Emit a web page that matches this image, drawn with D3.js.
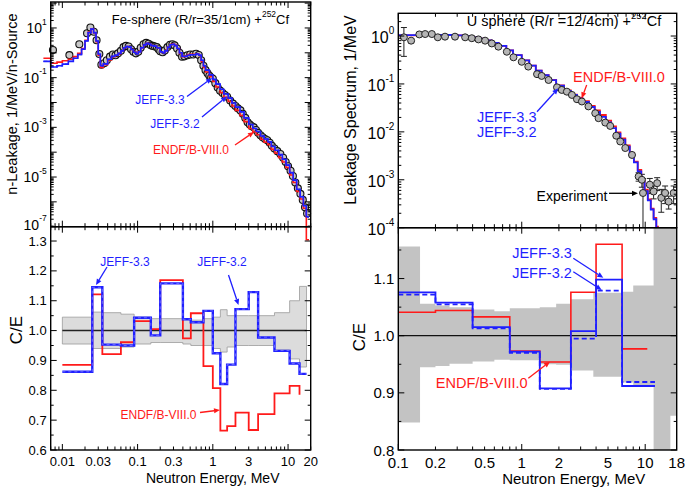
<!DOCTYPE html>
<html><head><meta charset="utf-8">
<script src="https://cdn.jsdelivr.net/npm/d3@7"></script>
<style>body{margin:0;background:#fff} svg{display:block} text{font-family:"Liberation Sans",Arial,Helvetica,sans-serif}</style>
</head><body><svg id="c" width="685" height="488"></svg>
<script>
// ---------------- DATA ----------------
// Fe sphere: experimental leakage spectrum (E MeV, 1/MeV/n-source)
const feExpE = [0.0075,0.0124,0.0168,0.0213,0.0236,0.0262,0.0285,0.031,0.033,0.036,0.039,0.043,0.047,0.051,0.055,0.06,0.065,0.07,0.076,0.082,0.088,0.095,0.102,0.11,0.12,0.13,0.14,0.15,0.16,0.17,0.18,0.19,0.2,0.215,0.23,0.25,0.27,0.29,0.31,0.335,0.36,0.39,0.42,0.46,0.5,0.55,0.6,0.65,0.7,0.75,0.8,0.85,0.9,0.95,1.0,1.08,1.16,1.25,1.35,1.45,1.55,1.7,1.85,2.0,2.15,2.33,2.5,2.7,2.9,3.1,3.3,3.5,3.75,4.0,4.3,4.6,4.95,5.3,5.7,6.1,6.6,7.2,7.9,8.6,9.3,10.0,10.8,11.6,12.5,13.5,14.6,15.7,16.8,17.9];
const feExpV = [1.3,0.81,2.2,6.1,10.5,7,3.2,0.9,0.33,0.38,0.5,0.7,0.85,0.8,0.95,1.2,1.7,1.9,1.8,1.4,1.1,0.95,1.1,1.6,2.2,2.5,2.3,2.0,1.9,1.8,1.7,1.4,1.15,1.05,1.25,1.7,2.1,2.2,2.0,1.5,1.0,0.7,0.72,0.8,0.85,0.85,0.92,0.82,0.5,0.3,0.2,0.15,0.12,0.1,0.09,0.06,0.04,0.03,0.024,0.02,0.017,0.012,0.009,0.0072,0.0058,0.0048,0.0035,0.0024,0.0016,0.0013,0.0011,0.001,0.00078,0.0006,0.00048,0.0004,0.00034,0.0003,0.00024,0.00018,0.00014,0.00011,0.000085,0.00006,0.00004,0.000027,0.000018,0.000011,0.000006,0.0000035,0.0000021,0.0000012,0.0000006,0.00000034];
// Fe sphere: calculated spectra, histogram bin edges and bin values
const feCalcE = [0.0056,0.007,0.0085,0.01,0.012,0.014,0.016,0.018,0.02,0.022,0.024,0.026,0.028,0.03,0.032,0.035,0.04,0.045,0.05,0.055,0.06,0.065,0.07,0.076,0.082,0.088,0.095,0.102,0.11,0.12,0.13,0.14,0.15,0.165,0.18,0.2,0.215,0.23,0.25,0.27,0.29,0.31,0.335,0.36,0.39,0.42,0.46,0.5,0.55,0.6,0.65,0.7,0.75,0.8,0.9,1.0,1.1,1.25,1.4,1.6,1.8,2.0,2.3,2.6,3.0,3.4,3.8,4.3,4.8,5.4,6.0,6.7,7.5,8.4,9.4,10.5,11.7,13,14.5,16,17.5,19];
const feJeff33 = [0.45,0.27,0.3,0.35,0.45,0.6,0.85,1.4,3,6.5, 9,6.5,3,0.9,0.3,0.36,0.55,0.72,0.8,0.95, 1.2,1.6,1.8,1.7,1.35,1.05,0.92,1.1,1.6,2.1, 2.4,2.2,1.95,1.85,1.6,1.1,1.0,1.2,1.7,2.1, 2.2,1.95,1.5,1.0,0.72,0.72,0.8,0.83,0.84,0.9, 0.8,0.5,0.3,0.2,0.13,0.085,0.055,0.034,0.022,0.015, 0.0095,0.0065,0.0042,0.0024,0.0013,0.0009,0.00068,0.00045,0.00034,0.00026, 0.00017,0.00012,0.00008,0.000052,0.00003,0.000015,0.0000075,0.0000032,0.0000016,0.0000007, 0.00000025];
const feJeff32 = [0.45,0.27,0.3,0.35,0.45,0.6,0.85,1.4,3,6.5, 9,6.5,3,0.9,0.3,0.36,0.55,0.72,0.8,0.95, 1.2,1.6,1.8,1.7,1.35,1.05,0.92,1.1,1.6,2.1, 2.4,2.2,1.95,1.85,1.6,1.1,1.0,1.2,1.7,2.1, 2.2,1.95,1.5,1.0,0.72,0.72,0.8,0.83,0.84,0.9, 0.8,0.5,0.3,0.2,0.13,0.085,0.055,0.034,0.022,0.015, 0.0095,0.0065,0.0042,0.0024,0.0013,0.0009,0.00068,0.00045,0.00034,0.00026, 0.00017,0.00012,0.00008,0.000052,0.00003,0.000015,0.0000075,0.0000032,0.0000016,0.0000007, 0.00000025];
const feEndf = [0.6,0.38,0.42,0.48,0.55,0.7,0.95,1.5,3.2,6.8, 9.2,6.3,2.8,0.8,0.26,0.33,0.52,0.7,0.78,0.93, 1.2,1.6,1.8,1.7,1.35,1.08,0.95,1.12,1.6,2.1, 2.4,2.2,1.95,1.85,1.6,1.1,1.0,1.22,1.75,2.15, 2.25,2.0,1.5,0.95,0.7,0.75,0.85,0.88,0.88,0.92, 0.78,0.45,0.26,0.17,0.11,0.07,0.042,0.025,0.016,0.011, 0.0072,0.0048,0.003,0.0017,0.0009,0.00065,0.0005,0.00033,0.00025,0.0002, 0.00013,0.00009,0.00006,0.00004,0.000024,0.000012,0.000006,0.0000026,0.0000013,0.00000055, 0.00000003];
// Fe sphere: C/E groups
const feGroupE = [0.01,0.025,0.034,0.06,0.09,0.15,0.2,0.4,0.51,0.75,1.0,1.26,1.55,2.0,3.0,4.0,6.6,10.5,14.2,17.6];
const feCEJeff33 = [0.862,1.145,0.953,0.95,1.043,0.984,1.158,1.038,1.028,1.066,0.924,0.821,0.886,1.072,1.129,0.977,0.932,0.89,0.855];
const feCEJeff32 = [0.862,1.145,0.953,0.95,1.043,0.984,1.158,1.038,1.028,1.066,0.924,0.821,0.886,1.072,1.129,0.978,0.933,0.89,0.855];
const feCEEndf = [0.885,1.121,0.921,0.961,1.032,1.005,1.169,0.974,1.058,0.881,0.807,0.665,0.68,0.725,0.667,0.72,0.79,0.815,null];
const feCEEndfTail = 0.785;
const feBandUp = [1.045,1.062,1.06,1.055,1.045,1.04,1.04,1.04,1.035,1.04,1.045,1.07,1.05,1.05,1.05,1.05,1.06,1.10,1.148];
const feBandLo = [0.955,0.94,0.94,0.945,0.955,0.96,0.96,0.955,0.95,0.95,0.94,0.928,0.945,0.95,0.95,0.95,0.935,0.905,0.878];

// U sphere: experiment
const uExpE = [0.111,0.127,0.148,0.165,0.187,0.209,0.239,0.288,0.348,0.394,0.446,0.505,0.572,0.647,0.757,0.857,1.0,1.13,1.33,1.45,1.65,1.93,2.11,2.32,2.55,2.8,3.07,3.47,3.94,4.19,4.75,5.21,5.83,6.28,6.9,7.82,8.85,9.4,9.6,10.9,11.7,12.5,13.5,14.5,15.5,17];
const uExpV = [0.94,0.8,1.08,1.1,1.1,0.94,0.97,0.97,0.94,0.9,0.85,0.8,0.7,0.6,0.47,0.36,0.29,0.23,0.16,0.147,0.121,0.085,0.075,0.069,0.059,0.048,0.043,0.034,0.0245,0.0193,0.0156,0.0133,0.0083,0.0063,0.0046,0.0033,0.00117,0.001,0.00053,0.00079,0.00057,0.00085,0.00042,0.00053,0.00035,0.00053];
const uExpErr = [0.6,0.1,0,0,0,0,0,0,0,0,0,0,0,0,0,0,0,0,0,0,0,0,0,0,0,0,0,0,0,0,0,0,0,0,0.05,0.1,0.2,0.3,1.0,0.35,0.3,0.3,0.5,0.4,0.3,0.4];
// U sphere: calculated spectra (histogram)
const uCalcE = [0.1,0.15,0.2,0.25,0.3,0.35,0.4,0.45,0.5,0.57,0.65,0.75,0.85,1.0,1.15,1.3,1.45,1.65,1.9,2.2,2.5,2.8,3.1,3.5,3.9,4.3,4.8,5.3,5.8,6.3,6.9,7.5,8.1,8.7,9.3,9.9,10.5,11.1,11.7,12.3,12.9];
const uJeff = [1.04,1.06,1.06,1.05,1.03,0.99,0.94,0.88,0.81,0.72,0.62,0.5,0.4,0.31,0.24,0.19,0.152,0.12,0.092,0.072,0.059,0.05,0.042,0.033,0.026,0.0205,0.0158,0.012,0.0092,0.0069,0.0049,0.0034,0.0023,0.0015,0.00092,0.00058,0.00037,0.00024,0.00015,0.0001];
const uEndf = [1.03,1.05,1.05,1.05,1.03,0.99,0.94,0.88,0.81,0.72,0.62,0.5,0.4,0.31,0.24,0.19,0.153,0.121,0.093,0.073,0.06,0.052,0.044,0.035,0.028,0.0225,0.0172,0.013,0.0098,0.0073,0.0052,0.0036,0.0024,0.0016,0.00098,0.00062,0.00039,0.00025,0.00016,0.000105];
// U sphere: C/E groups
const uGroupE = [0.1,0.2,0.4,0.8,1.4,2.5,4.0,6.5,12];
const uGroupEEndf = [0.1,0.2,0.4,0.8,1.4,2.5,4.0,6.5,10.4];
const uCEJeff33 = [1.0757,1.058,1.015,0.972,0.908,1.008,1.098,0.912];
const uCEJeff32 = [1.072,1.055,1.013,0.970,0.907,0.995,1.079,0.919];
const uCEEndf = [1.041,1.044,1.033,0.973,0.954,1.076,1.16,0.977];
const uBandE = [0.1,0.15,0.2,0.26,0.4,0.6,0.8,1.4,1.9,2.5,3.8,6.5,8,11.7,16,18];
const uBandUp = [1.156,1.056,1.053,1.05,1.046,1.043,1.048,1.05,1.056,1.064,1.075,1.077,1.088,1.3,1.3];
const uBandLo = [0.848,0.945,0.947,0.951,0.955,0.958,0.957,0.95,0.949,0.939,0.928,0.918,0.913,0.7,0.86];

// Tick labels
const feXTicks = [0.01,0.03,0.1,0.3,1,3,10,20];
const uXTicks = [0.1,0.2,0.5,1,2,5,10,18];
const feYExp = [1,-1,-3,-5,-7];
const uYExp = [0,-1,-2,-3,-4];
const feCETicks = [0.6,0.7,0.8,0.9,1.0,1.1,1.2,1.3];
const uCETicks = [0.8,0.9,1.0,1.1];

// ---------------- DRAW ----------------
const svg = d3.select("#c");
const RED = "#ff1a1a", BLUE = "#1f1fff";
const L = {x0:50.7, x1:310.7, yT:2, yM:226.7, yB:450};
const R = {x0:398.3, x1:676.7, yT:13.3, yM:227.7, yB:450};

const xFe = d3.scaleLog().domain([0.007,20]).range([L.x0,L.x1]);
const yFe = d3.scaleLog().domain([1e-7,111]).range([L.yM,L.yT]);
const yFeCE = d3.scaleLinear().domain([0.6,1.348]).range([L.yB,L.yM]);
const xU = d3.scaleLog().domain([0.1,18]).range([R.x0,R.x1]);
const yU = d3.scaleLog().domain([1e-4,2.98]).range([R.yM,R.yT]);
const yUCE = d3.scaleLinear().domain([0.8,1.189]).range([R.yB,R.yM]);

const defs = svg.append("defs");
function clip(id,x0,y0,x1,y1){defs.append("clipPath").attr("id",id).append("rect").attr("x",x0).attr("y",y0).attr("width",x1-x0).attr("height",y1-y0);}
clip("cLB",L.x0,L.yM,L.x1,L.yB);
clip("cRT",R.x0,R.yT,R.x1,R.yM);
clip("cRB",R.x0,R.yM,R.x1,R.yB);

function stepD(bounds, vals, x, y){
  let d = "", prev = null;
  for (let i=0;i<vals.length && i+1<bounds.length;i++){
    const v = vals[i];
    if (v==null){prev=null;continue;}
    const X0=x(bounds[i]), X1=x(bounds[i+1]), Y=y(v);
    d += (prev==null?`M${X0},${Y}`:`V${Y}`) + `H${X1}`;
    prev = Y;
  }
  return d;
}
function bandD(bounds, up, lo, x, y){
  const pts=[];
  for(let i=0;i<up.length;i++){pts.push([x(bounds[i]),y(up[i])],[x(bounds[i+1]),y(up[i])]);}
  for(let i=lo.length-1;i>=0;i--){pts.push([x(bounds[i+1]),y(lo[i])],[x(bounds[i]),y(lo[i])]);}
  return "M"+pts.map(p=>p.join(",")).join("L")+"Z";
}
function logMinor(lo,hi){
  const out=[];
  for(let e=Math.floor(Math.log10(lo));e<=Math.ceil(Math.log10(hi));e++){
    for(let k=1;k<10;k++){const v=k*Math.pow(10,e); if(v>=lo*0.999&&v<=hi*1.001) out.push({v,major:k===1});}
  }
  return out;
}
function xTicks(g,scale,ticks,y,dir,lenMaj,lenMin){
  ticks.forEach(t=>{const X=scale(t.v);const len=t.major?lenMaj:lenMin;
    g.append("line").attr("x1",X).attr("x2",X).attr("y1",y).attr("y2",y+dir*len).attr("stroke","#000").attr("stroke-width",1);});
}
function yTicks(g,scale,ticks,x,dir,lenMaj,lenMin){
  ticks.forEach(t=>{const Y=scale(t.v);const len=t.major?lenMaj:lenMin;
    g.append("line").attr("y1",Y).attr("y2",Y).attr("x1",x).attr("x2",x+dir*len).attr("stroke","#000").attr("stroke-width",1);});
}
function arrow(x1,y1,x2,y2,color){
  const g=svg.append("g");
  const a=Math.atan2(y2-y1,x2-x1), h=6, w=2.6;
  const bx=x2-h*Math.cos(a), by=y2-h*Math.sin(a);
  g.append("line").attr("x1",x1).attr("y1",y1).attr("x2",bx).attr("y2",by).attr("stroke",color).attr("stroke-width",1.3);
  g.append("path").attr("d",`M${x2},${y2}L${bx+w*Math.sin(a)},${by-w*Math.cos(a)}L${bx-w*Math.sin(a)},${by+w*Math.cos(a)}Z`).attr("fill",color);
}
function label(x,y,txt,color,size,anchor){
  return svg.append("text").attr("x",x).attr("y",y).attr("fill",color).attr("font-size",size)
    .attr("text-anchor",anchor||"middle").attr("dominant-baseline","central").text(txt);
}

// ===== Left bottom: Fe C/E =====
const gLB = svg.append("g").attr("clip-path","url(#cLB)");
gLB.append("path").attr("d",bandD(feGroupE,feBandUp,feBandLo,xFe,yFeCE)).attr("fill","#dcdcdc").attr("stroke","#9a9a9a").attr("stroke-width",0.8);
gLB.append("line").attr("x1",xFe(feGroupE[0])).attr("x2",xFe(feGroupE[feGroupE.length-1])).attr("y1",yFeCE(1)).attr("y2",yFeCE(1)).attr("stroke","#222").attr("stroke-width",1.5);
gLB.append("path").attr("d",stepD(feGroupE,feCEEndf,xFe,yFeCE)+`V${yFeCE(feCEEndfTail)}`).attr("fill","none").attr("stroke",RED).attr("stroke-width",1.8);
gLB.append("path").attr("d",stepD(feGroupE,feCEJeff33,xFe,yFeCE)).attr("fill","none").attr("stroke",BLUE).attr("stroke-width",2.4);
gLB.append("path").attr("d",stepD(feGroupE,feCEJeff32,xFe,yFeCE)).attr("fill","none").attr("stroke","#7d7dff").attr("stroke-width",0.8).attr("stroke-dasharray","3,3");

// ===== Left top: Fe spectrum =====
const gLT = svg.append("g");
gLT.selectAll("circle").data(d3.zip(feExpE,feExpV)).join("circle")
  .attr("cx",d=>xFe(d[0])).attr("cy",d=>yFe(d[1])).attr("r",3.5)
  .attr("fill","#c8c8c8").attr("stroke","#111").attr("stroke-width",1.1);
gLT.append("path").attr("d",stepD(feCalcE,feEndf,xFe,yFe)).attr("fill","none").attr("stroke",RED).attr("stroke-width",1.6);
gLT.append("path").attr("d",stepD(feCalcE,feJeff33,xFe,yFe)).attr("fill","none").attr("stroke",BLUE).attr("stroke-width",1.6);
gLT.append("path").attr("d",stepD(feCalcE,feJeff32,xFe,yFe)).attr("fill","none").attr("stroke",BLUE).attr("stroke-width",1.2).attr("stroke-dasharray","4,2");

// ===== Right bottom: U C/E =====
const gRB = svg.append("g").attr("clip-path","url(#cRB)");
gRB.append("path").attr("d",bandD(uBandE,uBandUp,uBandLo,xU,yUCE)).attr("fill","#c3c3c3");
gRB.append("line").attr("x1",R.x0).attr("x2",R.x1).attr("y1",yUCE(1)).attr("y2",yUCE(1)).attr("stroke","#111").attr("stroke-width",1.3);
gRB.append("path").attr("d",stepD(uGroupEEndf,uCEEndf,xU,yUCE)).attr("fill","none").attr("stroke",RED).attr("stroke-width",1.6);
gRB.append("path").attr("d",stepD(uGroupE,uCEJeff33,xU,yUCE)).attr("fill","none").attr("stroke",BLUE).attr("stroke-width",1.8);
gRB.append("path").attr("d",stepD(uGroupE,uCEJeff32,xU,yUCE)).attr("fill","none").attr("stroke",BLUE).attr("stroke-width",1.8).attr("stroke-dasharray","5,3");

// ===== Right top: U spectrum =====
const gRT = svg.append("g").attr("clip-path","url(#cRT)");
const uPts = uExpE.map((e,i)=>({e,v:uExpV[i],err:uExpErr[i]}));
uPts.filter(p=>p.err>0).forEach(p=>{
  const X=xU(p.e), Yh=yU(p.v*(1+p.err)), Yl=p.err>=1?R.yM+5:yU(p.v*(1-p.err));
  gRT.append("line").attr("x1",X).attr("x2",X).attr("y1",Yh).attr("y2",Yl).attr("stroke","#222").attr("stroke-width",1);
  [Yh,Yl].forEach(Y=>gRT.append("line").attr("x1",X-3).attr("x2",X+3).attr("y1",Y).attr("y2",Y).attr("stroke","#222").attr("stroke-width",1));
});
gRT.append("path").attr("d",stepD(uCalcE,uEndf,xU,yU)).attr("fill","none").attr("stroke",RED).attr("stroke-width",1.8);
gRT.append("path").attr("d",stepD(uCalcE,uJeff,xU,yU)).attr("fill","none").attr("stroke",BLUE).attr("stroke-width",1.8);
gRT.selectAll("circle").data(uPts).join("circle")
  .attr("cx",p=>xU(p.e)).attr("cy",p=>yU(p.v)).attr("r",3.5)
  .attr("fill","#b5b5b5").attr("stroke","#222").attr("stroke-width",1);

// ===== Frames & ticks =====
const gA = svg.append("g");
[[L.x0,L.yT,L.x1,L.yM],[L.x0,L.yM,L.x1,L.yB],[R.x0,R.yT,R.x1,R.yM],[R.x0,R.yM,R.x1,R.yB]].forEach(r=>
  gA.append("rect").attr("x",r[0]).attr("y",r[1]).attr("width",r[2]-r[0]).attr("height",r[3]-r[1]).attr("fill","none").attr("stroke","#000").attr("stroke-width",1.4));

const feXT = logMinor(0.007,20);
[L.yT,L.yM].forEach(y=>xTicks(gA,xFe,feXT,y,1,6,3.5));
[L.yM,L.yB].forEach(y=>xTicks(gA,xFe,feXT,y,-1,6,3.5));
const feYT = logMinor(1e-7,111);
yTicks(gA,yFe,feYT,L.x0,1,6,3);yTicks(gA,yFe,feYT,L.x1,-1,6,3);
const feCET = d3.range(0.6,1.3501,0.05).map((v,i)=>({v,major:i%2===0}));
yTicks(gA,yFeCE,feCET,L.x0,1,6,3);yTicks(gA,yFeCE,feCET,L.x1,-1,6,3);

const uXT = logMinor(0.1,18);
[R.yT,R.yM].forEach(y=>xTicks(gA,xU,uXT,y,1,6,3.5));
[R.yM,R.yB].forEach(y=>xTicks(gA,xU,uXT,y,-1,6,3.5));
const uYT = logMinor(1e-4,2.98);
yTicks(gA,yU,uYT,R.x0,1,6,3);yTicks(gA,yU,uYT,R.x1,-1,6,3);
const uCET = d3.range(0.8,1.1901,0.05).map((v,i)=>({v,major:i%2===0}));
yTicks(gA,yUCE,uCET,R.x0,1,6,3);yTicks(gA,yUCE,uCET,R.x1,-1,6,3);

// tick labels
const fmt = v=>String(v);
feXTicks.forEach(v=>label(xFe(v),461,fmt(v),"#000",13));
uXTicks.forEach(v=>label(xU(v),462,fmt(v),"#000",15));
feCETicks.forEach(v=>label(L.x0-4,yFeCE(v),v.toFixed(1),"#000",13,"end"));
uCETicks.forEach(v=>label(R.x0-4,yUCE(v),v.toFixed(1),"#000",15,"end"));
function powLabel(x,y,e,size,sup){
  const t=svg.append("text").attr("x",x).attr("y",y).attr("text-anchor","end").attr("font-size",size).attr("dominant-baseline","central");
  t.append("tspan").text("10");
  t.append("tspan").attr("font-size",sup).attr("dy",-size*0.45).text(String(e));
}
feYExp.forEach(e=>powLabel(L.x0-4,yFe(Math.pow(10,e))-(e===-7?2:0),e,14,8.5));
uYExp.forEach(e=>powLabel(R.x0-4,yU(Math.pow(10,e))+1,e,16,10));

// axis titles
label(212.7,478,"Neutron Energy, MeV","#000",14);
label(573.7,478,"Neutron Energy, MeV","#000",15);
svg.append("text").attr("transform","translate(12,104) rotate(-90)").attr("text-anchor","middle").attr("dominant-baseline","central").attr("font-size",14.5).text("n-Leakage, 1/MeV/n-Source");
svg.append("text").attr("transform","translate(16,330) rotate(-90)").attr("text-anchor","middle").attr("dominant-baseline","central").attr("font-size",17).text("C/E");
svg.append("text").attr("transform","translate(350,110) rotate(-90)").attr("text-anchor","middle").attr("dominant-baseline","central").attr("font-size",16).text("Leakage Spectrum, 1/MeV");
svg.append("text").attr("transform","translate(359,337) rotate(-90)").attr("text-anchor","middle").attr("dominant-baseline","central").attr("font-size",17).text("C/E");

// panel titles
function title(x,y,size,pre){
  const t=svg.append("text").attr("x",x).attr("y",y).attr("font-size",size).attr("dominant-baseline","central");
  t.append("tspan").text(pre);
  t.append("tspan").attr("font-size",size*0.65).attr("dy",-size*0.4).text("252");
  t.append("tspan").attr("dy",size*0.4).text("Cf");
}
title(111.7,19,13,"Fe-sphere (R/r=35/1cm) +");
title(466.7,20.7,14.5,"U sphere (R/r =12/4cm) +");

// annotations
label(160,100,"JEFF-3.3",BLUE,12); arrow(187,96.5,212,78,BLUE);
label(175,123.5,"JEFF-3.2",BLUE,12); arrow(202,117,227,96.5,BLUE);
label(191,150,"ENDF/B-VIII.0",RED,12); arrow(235,145,254,132,RED);
label(125,261.5,"JEFF-3.3",BLUE,12); arrow(107,267,96,285,BLUE);
label(222,261.5,"JEFF-3.2",BLUE,12); arrow(228.5,275,238.5,305,BLUE);
label(158.5,414.5,"ENDF/B-VIII.0",RED,12); arrow(200,412.5,220,410,RED);

label(619,76.7,"ENDF/B-VIII.0",RED,14.5); arrow(586.7,85,581.7,98.3,RED);
label(506.7,116.7,"JEFF-3.3",BLUE,14.5);
label(506.7,131.7,"JEFF-3.2",BLUE,14.5); arrow(537,111.7,558.3,88.3,BLUE);
label(572,195.7,"Experiment","#000",14); arrow(609,193.3,638,193.3,"#000");
label(542,253.3,"JEFF-3.3",BLUE,14.5); arrow(573.3,258.3,603.3,277.7,BLUE);
label(542,273.3,"JEFF-3.2",BLUE,14.5); arrow(573.3,271.7,601.7,290,BLUE);
label(481.7,383.3,"ENDF/B-VIII.0",RED,14.5); arrow(528.3,378.3,550,361.7,RED);
</script></body></html>
